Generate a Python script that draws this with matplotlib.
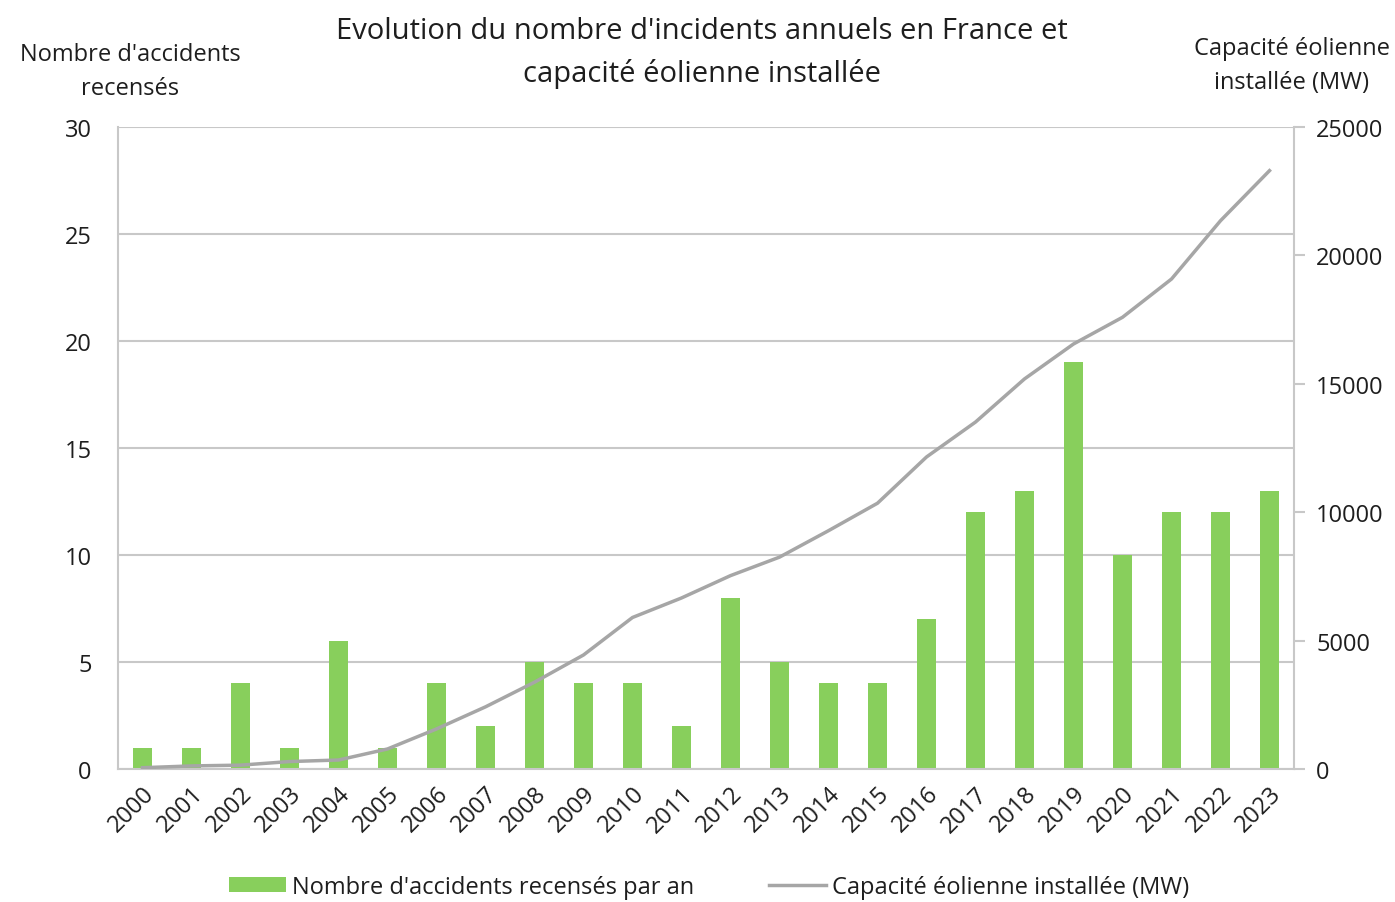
import matplotlib
matplotlib.use("Agg")
import matplotlib.pyplot as plt
from matplotlib.lines import Line2D
from matplotlib.patches import Patch

plt.rcParams['font.family'] = ['Open Sans', 'DejaVu Sans']

years = [str(y) for y in range(2000, 2024)]
accidents = [1, 1, 4, 1, 6, 1, 4, 2, 5, 4, 4, 2, 8, 5, 4, 4, 7, 12, 13, 19, 10, 12, 12, 13]
capacity_mw = [50, 120, 150, 290, 350, 780, 1560, 2420, 3380, 4440, 5900, 6660,
               7530, 8250, 9280, 10350, 12150, 13510, 15190, 16550, 17590, 19080, 21350, 23300]

title = "Evolution du nombre d'incidents annuels en France et\ncapacité éolienne installée"
left_label = "Nombre d'accidents\nrecensés"
right_label = "Capacité éolienne\ninstallée (MW)"
bar_legend = "Nombre d'accidents recensés par an"
line_legend = "Capacité éolienne installée (MW)"

W, H = 1395, 903
fig = plt.figure(figsize=(W / 100, H / 100), dpi=100)
ax = fig.add_axes([118 / W, 1 - 770 / H, (1294 - 118) / W, (770 - 128) / H])
x = list(range(len(years)))

bar_color = '#88CF5C'
line_color = '#A6A6A6'
grid_color = '#C8C8C8'
text_color = '#1E1E1E'
fs = 17

ax.bar(x, accidents, width=0.4, color=bar_color, zorder=2)
ax.set_ylim(0, 30)
ax.set_yticks(range(0, 31, 5))
ax.set_xlim(-0.5, len(years) - 0.5)
ax.set_xticks(x)
ax.set_xticklabels(years, rotation=45, ha='right', va='top', rotation_mode='anchor')
ax.yaxis.grid(True, color=grid_color, linewidth=1.5, zorder=0)
ax.set_axisbelow(True)
ax.tick_params(axis='y', length=0, pad=19, labelsize=fs, colors=text_color)
ax.tick_params(axis='x', length=0, pad=9, labelsize=fs, colors=text_color)
for s in ['left', 'bottom']:
    ax.spines[s].set_color(grid_color)
    ax.spines[s].set_linewidth(1.5)
ax.spines['top'].set_visible(False)
ax.spines['right'].set_visible(False)

ax2 = ax.twinx()
ax2.plot(x, capacity_mw, color=line_color, linewidth=2.5, zorder=3)
ax2.set_ylim(0, 25000)
ax2.set_yticks(range(0, 25001, 5000))
ax2.tick_params(axis='y', length=8, width=1.5, pad=8, labelsize=fs, colors=text_color)
ax2.tick_params(axis='y', color=grid_color)
for s in ['left', 'bottom', 'top']:
    ax2.spines[s].set_visible(False)
ax2.spines['right'].set_color(grid_color)
ax2.spines['right'].set_linewidth(1.5)

fig.text(702 / W, 1 - 53 / H, title, ha='center', va='center', fontsize=21,
         color=text_color, linespacing=1.55)
fig.text(130 / W, 1 - 72 / H, left_label, ha='center', va='center', fontsize=17,
         color=text_color, linespacing=1.6)
fig.text(1292 / W, 1 - 66 / H, right_label, ha='center', va='center', fontsize=17,
         color=text_color, linespacing=1.6)

handles = [Patch(facecolor=bar_color, edgecolor='none'),
           Line2D([0], [0], color=line_color, linewidth=2.5)]
fig.legend(handles, [bar_legend, line_legend], loc='center', bbox_to_anchor=(709 / W, 1 - 888 / H),
           ncol=2, frameon=False, fontsize=fs, handlelength=2.4, handleheight=0.6,
           handletextpad=0.25, columnspacing=3.2, labelcolor=text_color)

fig.savefig('out.png', dpi=100, facecolor='white')
